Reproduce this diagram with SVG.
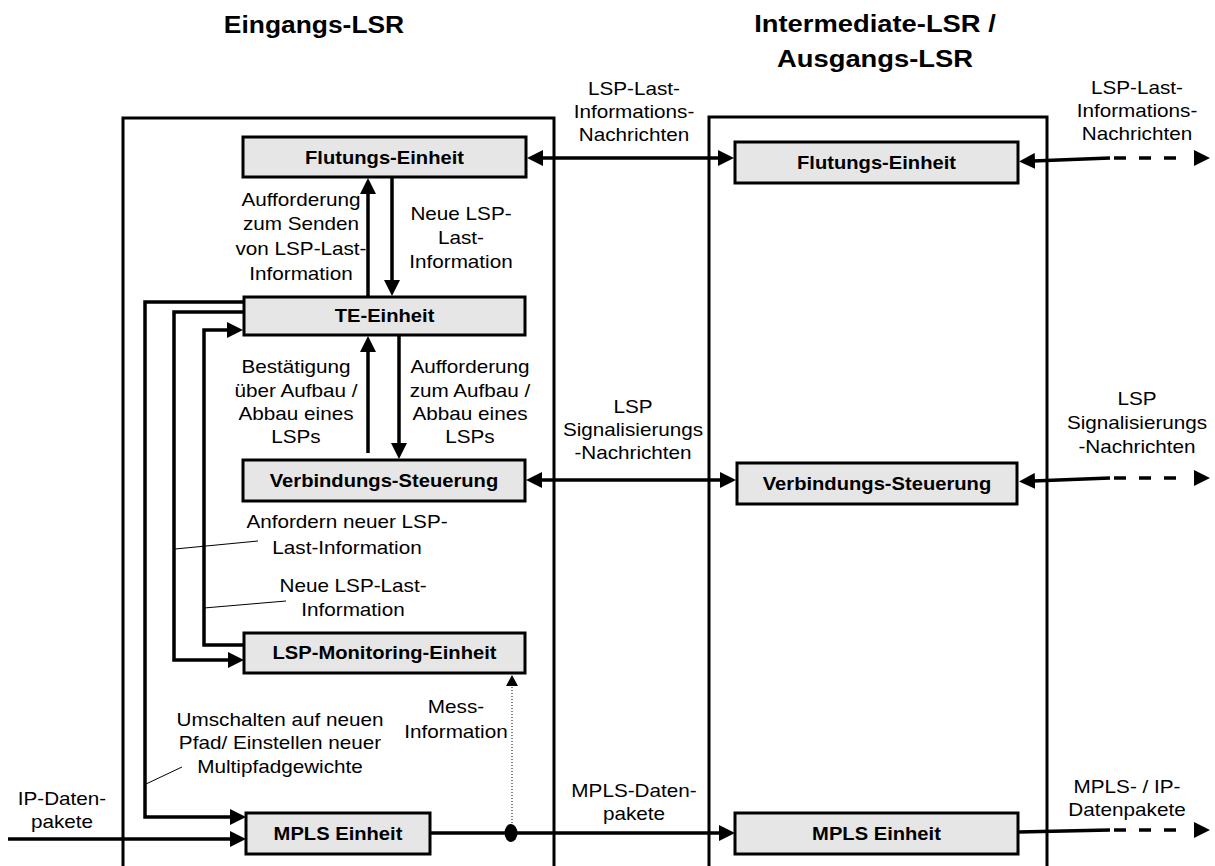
<svg xmlns="http://www.w3.org/2000/svg" width="1215" height="866" viewBox="0 0 1215 866">
  <style>
    .t { font-family: "Liberation Sans", Arial, sans-serif; font-size: 18px; fill: #000; text-anchor: middle; }
    .b { font-weight: bold; }
    .h { font-size: 24px; font-weight: bold; }
    .frame { fill: none; stroke: #000; stroke-width: 3; }
    .box { fill: #e6e6e6; stroke: #000; stroke-width: 3; }
    .c { fill: none; stroke: #000; stroke-width: 3.5; }
    .dash { fill: none; stroke: #000; stroke-width: 3.5; stroke-dasharray: 12 13; }
    .lead { fill: none; stroke: #000; stroke-width: 1; }
    .dot { fill: none; stroke: #000; stroke-width: 1; stroke-dasharray: 1 2; }
  </style>
  <defs>
    <marker id="ah" viewBox="0 0 16 16" refX="2" refY="8" markerWidth="16" markerHeight="16" markerUnits="userSpaceOnUse" orient="auto-start-reverse">
      <path d="M0,0 L16,8 L0,16 z" fill="#000"/>
    </marker>
    <marker id="ahs" viewBox="0 0 11 12" refX="1" refY="6" markerWidth="11" markerHeight="12" markerUnits="userSpaceOnUse" orient="auto">
      <path d="M0,0 L11,6 L0,12 z" fill="#000"/>
    </marker>
  </defs>

  <!-- column titles -->
  <text class="t h" transform="translate(314 0) scale(1.1 1)" x="0" y="33">Eingangs-LSR</text>
  <text class="t h" transform="translate(875 0) scale(1.14 1)"><tspan x="0" y="32">Intermediate-LSR /</tspan><tspan x="0" y="67">Ausgangs-LSR</tspan></text>

  <!-- router frames (open at the bottom) -->
  <path class="frame" d="M123,866 V118 H554 V866"/>
  <path class="frame" d="M709,866 V117 H1047 V866"/>

  <!-- connectors -->
  <g id="connectors">
    <path class="c" d="M541,158 H720" marker-start="url(#ah)" marker-end="url(#ah)"/>
    <path class="c" d="M1110,158 L1033,161" marker-end="url(#ah)"/>
    <path class="dash" d="M1114,158 H1180"/>
    <path class="c" d="M1194,158 H1196" marker-end="url(#ah)"/>

    <path class="c" d="M368,297 V192" marker-end="url(#ah)"/>
    <path class="c" d="M392,178 V282" marker-end="url(#ah)"/>
    <path class="c" d="M368,453 V350" marker-end="url(#ah)"/>
    <path class="c" d="M399,336 V445" marker-end="url(#ah)"/>

    <path class="c" d="M540,480 H722" marker-start="url(#ah)" marker-end="url(#ah)"/>
    <path class="c" d="M1110,478 L1033,481" marker-end="url(#ah)"/>
    <path class="dash" d="M1114,478 H1180"/>
    <path class="c" d="M1194,478 H1196" marker-end="url(#ah)"/>

    <path class="c" d="M244,302 H145 V817 H232" marker-end="url(#ah)"/>
    <path class="c" d="M244,312 H174 V660 H230" marker-end="url(#ah)"/>
    <path class="c" d="M244,645 H204 V330 H229" marker-end="url(#ah)"/>

    <path class="c" d="M8,839 H232" marker-end="url(#ah)"/>
    <path class="c" d="M430,833 H721" marker-end="url(#ah)"/>
    <ellipse cx="511" cy="833" rx="6.5" ry="9" fill="#000"/>
    <path class="dot" d="M512,826 V685" marker-end="url(#ahs)"/>

    <path class="c" d="M1018,832 L1110,830"/>
    <path class="dash" d="M1114,830 H1180"/>
    <path class="c" d="M1194,830 H1196" marker-end="url(#ah)"/>

    <!-- label leaders -->
    <path class="lead" d="M175,549 L258,541"/>
    <path class="lead" d="M204,608 L286,601"/>
    <path class="lead" d="M146,784 L182,767"/>
  </g>

  <!-- connector labels -->
  <g id="labels">
    <text class="t" transform="translate(634 0) scale(1.15 1)"><tspan x="0" y="95">LSP-Last-</tspan><tspan x="0" y="118">Informations-</tspan><tspan x="0" y="141">Nachrichten</tspan></text>
    <text class="t" transform="translate(1137 0) scale(1.15 1)"><tspan x="0" y="94">LSP-Last-</tspan><tspan x="0" y="117">Informations-</tspan><tspan x="0" y="140">Nachrichten</tspan></text>
    <text class="t" transform="translate(301 0) scale(1.15 1)"><tspan x="0" y="206">Aufforderung</tspan><tspan x="0" y="230.5">zum Senden</tspan><tspan x="0" y="255">von LSP-Last-</tspan><tspan x="0" y="280">Information</tspan></text>
    <text class="t" transform="translate(461 0) scale(1.15 1)"><tspan x="0" y="220">Neue LSP-</tspan><tspan x="0" y="244">Last-</tspan><tspan x="0" y="268">Information</tspan></text>
    <text class="t" transform="translate(296 0) scale(1.15 1)"><tspan x="0" y="373">Bestätigung</tspan><tspan x="0" y="397">über Aufbau /</tspan><tspan x="0" y="420">Abbau eines</tspan><tspan x="0" y="443.5">LSPs</tspan></text>
    <text class="t" transform="translate(470 0) scale(1.15 1)"><tspan x="0" y="373">Aufforderung</tspan><tspan x="0" y="397">zum Aufbau /</tspan><tspan x="0" y="420">Abbau eines</tspan><tspan x="0" y="443.5">LSPs</tspan></text>
    <text class="t" transform="translate(633 0) scale(1.15 1)"><tspan x="0" y="413">LSP</tspan><tspan x="0" y="436">Signalisierungs</tspan><tspan x="0" y="459">-Nachrichten</tspan></text>
    <text class="t" transform="translate(1137 0) scale(1.15 1)"><tspan x="0" y="405">LSP</tspan><tspan x="0" y="429">Signalisierungs</tspan><tspan x="0" y="453">-Nachrichten</tspan></text>
    <text class="t" transform="translate(347 0) scale(1.15 1)"><tspan x="0" y="528">Anfordern neuer LSP-</tspan><tspan x="0" y="554">Last-Information</tspan></text>
    <text class="t" transform="translate(353 0) scale(1.15 1)"><tspan x="0" y="592">Neue LSP-Last-</tspan><tspan x="0" y="616">Information</tspan></text>
    <text class="t" transform="translate(456 0) scale(1.15 1)"><tspan x="0" y="713">Mess-</tspan><tspan x="0" y="738">Information</tspan></text>
    <text class="t" transform="translate(280 0) scale(1.15 1)"><tspan x="0" y="726">Umschalten auf neuen</tspan><tspan x="0" y="749.5">Pfad/ Einstellen neuer</tspan><tspan x="0" y="773">Multipfadgewichte</tspan></text>
    <text class="t" transform="translate(62 0) scale(1.15 1)"><tspan x="0" y="805">IP-Daten-</tspan><tspan x="0" y="828">pakete</tspan></text>
    <text class="t" transform="translate(634 0) scale(1.15 1)"><tspan x="0" y="797">MPLS-Daten-</tspan><tspan x="0" y="820">pakete</tspan></text>
    <text class="t" transform="translate(1127 0) scale(1.15 1)"><tspan x="0" y="793">MPLS- / IP-</tspan><tspan x="0" y="816">Datenpakete</tspan></text>
  </g>

  <!-- ingress LSR units -->
  <g id="flutung-in">
    <rect class="box" x="243" y="137" width="283" height="40"/>
    <text class="t b" transform="translate(384.5 0) scale(1.12 1)" x="0" y="164">Flutungs-Einheit</text>
  </g>
  <g id="te-einheit">
    <rect class="box" x="244" y="297" width="281" height="38"/>
    <text class="t b" transform="translate(384.5 0) scale(1.12 1)" x="0" y="322.5">TE-Einheit</text>
  </g>
  <g id="verbindung-in">
    <rect class="box" x="243" y="460" width="282" height="41"/>
    <text class="t b" transform="translate(384 0) scale(1.12 1)" x="0" y="487">Verbindungs-Steuerung</text>
  </g>
  <g id="monitoring">
    <rect class="box" x="244" y="633" width="281" height="40"/>
    <text class="t b" transform="translate(384.5 0) scale(1.12 1)" x="0" y="659.5">LSP-Monitoring-Einheit</text>
  </g>
  <g id="mpls-in">
    <rect class="box" x="246" y="813" width="184" height="41"/>
    <text class="t b" transform="translate(338 0) scale(1.12 1)" x="0" y="840">MPLS Einheit</text>
  </g>

  <!-- intermediate / egress LSR units -->
  <g id="flutung-out">
    <rect class="box" x="735" y="142" width="283" height="41"/>
    <text class="t b" transform="translate(876.5 0) scale(1.12 1)" x="0" y="169">Flutungs-Einheit</text>
  </g>
  <g id="verbindung-out">
    <rect class="box" x="737" y="463" width="280" height="41"/>
    <text class="t b" transform="translate(877 0) scale(1.12 1)" x="0" y="490">Verbindungs-Steuerung</text>
  </g>
  <g id="mpls-out">
    <rect class="box" x="735" y="813" width="283" height="41"/>
    <text class="t b" transform="translate(876.5 0) scale(1.12 1)" x="0" y="840">MPLS Einheit</text>
  </g>
</svg>
